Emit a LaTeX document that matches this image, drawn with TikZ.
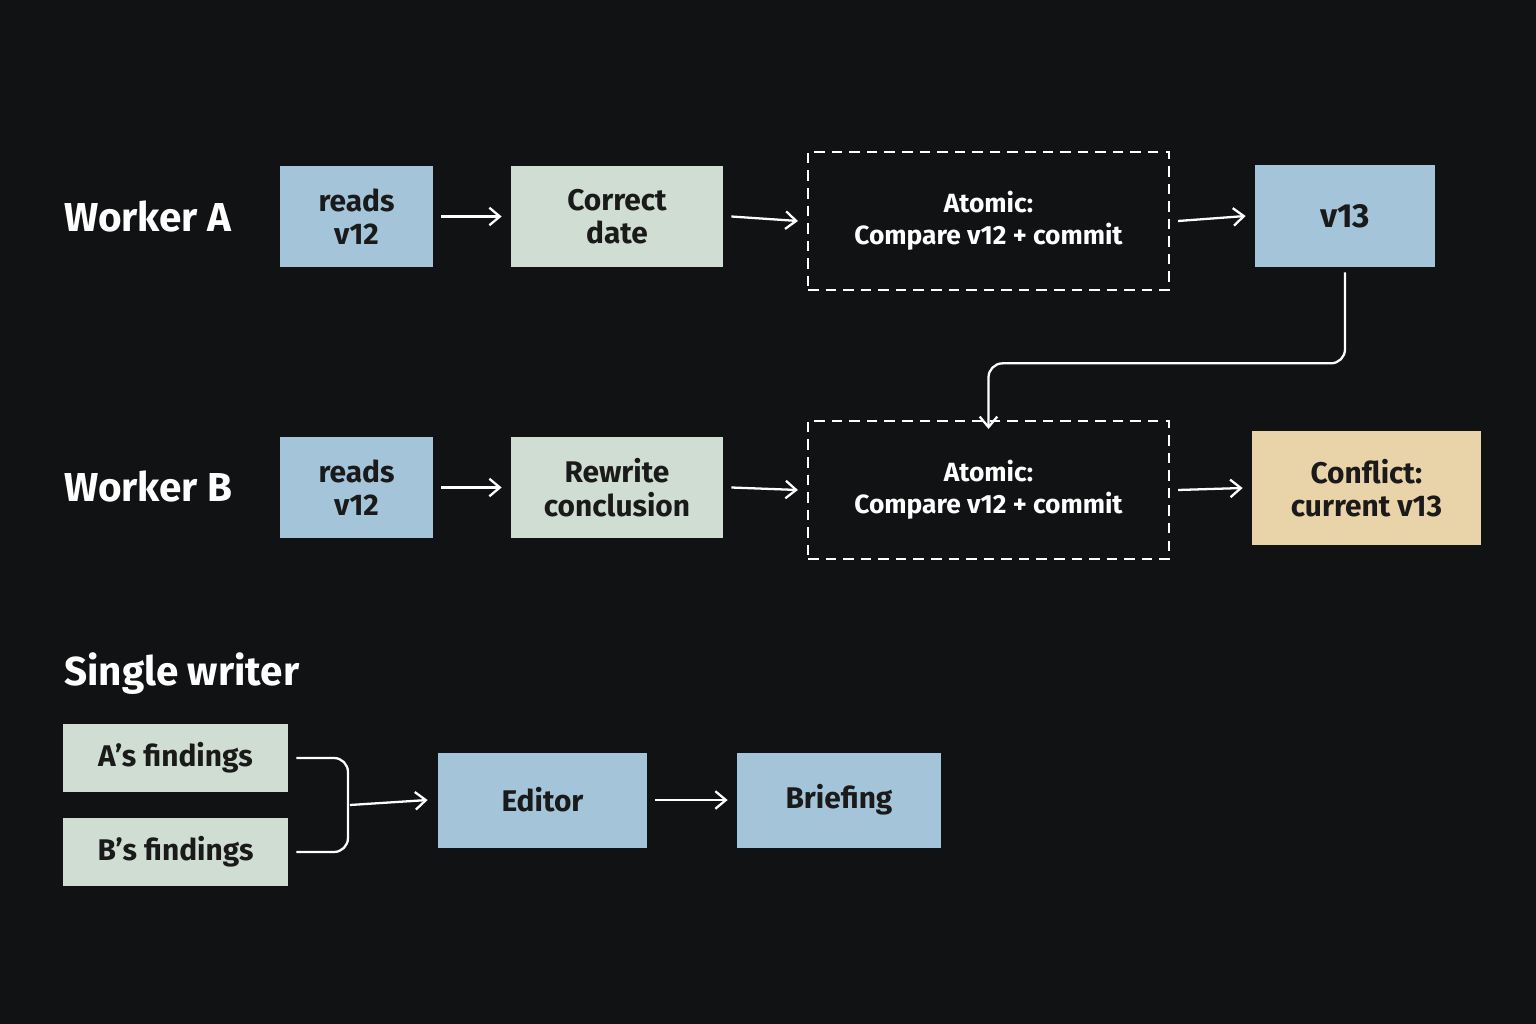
\documentclass[tikz,border=0pt]{standalone}
\usepackage{fontspec}
\setmainfont{Fira Sans}
\usetikzlibrary{arrows.meta}
\definecolor{bg}{HTML}{111214}
\definecolor{bl}{HTML}{A3C4D9}
\definecolor{gr}{HTML}{CFDDD2}
\definecolor{tn}{HTML}{E9D3A8}
\definecolor{tx}{HTML}{1A1A1A}
\begin{document}
\begin{tikzpicture}[x=0.02cm,y=-0.02cm,
  box/.style={draw=none,text=tx,font=\fontsize{17}{19}\selectfont\bfseries,align=center,inner sep=0pt},
  dbox/.style={draw=white,line width=1.2pt,dash pattern=on 6pt off 4pt,text=white,font=\fontsize{15}{18}\selectfont\bfseries,align=center,inner sep=0pt},
  lab/.style={text=white,font=\fontsize{23}{26}\selectfont\bfseries,anchor=west},
  arr/.style={draw=white,line width=1.3pt,-{Straight Barb[length=6pt,width=10pt]}}]
\fill[bg] (0,0) rectangle (1536,1024);
\useasboundingbox (0,0) rectangle (1536,1024);
\node[lab] (wa) at (58,217) {Worker A};
\node[lab] (wb) at (58,487) {Worker B};
\node[lab] (sw) at (58,674) {Single writer};
\node[box,fill=bl,minimum width=153*0.02cm,minimum height=101*0.02cm] (ra) at (356.5,216.5) {reads\\v12};
\node[box,fill=gr,minimum width=212*0.02cm,minimum height=101*0.02cm] (ca) at (617,216.5) {Correct\\date};
\node[dbox,minimum width=361*0.02cm,minimum height=138*0.02cm] (aa) at (988.5,221) {Atomic:\\Compare v12 + commit};
\node[box,fill=bl,minimum width=180*0.02cm,minimum height=102*0.02cm] (v) at (1345,216) {\fontsize{19}{22}\selectfont v13};
\node[box,fill=bl,minimum width=153*0.02cm,minimum height=101*0.02cm] (rb) at (356.5,487.5) {reads\\v12};
\node[box,fill=gr,minimum width=212*0.02cm,minimum height=101*0.02cm] (cb) at (617,487.5) {Rewrite\\conclusion};
\node[dbox,minimum width=361*0.02cm,minimum height=138*0.02cm] (ab) at (988.5,490) {Atomic:\\Compare v12 + commit};
\node[box,fill=tn,minimum width=229*0.02cm,minimum height=114*0.02cm] (cf) at (1366.5,488) {Conflict:\\current v13};
\node[box,fill=gr,minimum width=225*0.02cm,minimum height=68*0.02cm] (fa) at (175.5,758) {A’s findings};
\node[box,fill=gr,minimum width=225*0.02cm,minimum height=68*0.02cm] (fb) at (175.5,852) {B’s findings};
\node[box,fill=bl,minimum width=209*0.02cm,minimum height=95*0.02cm] (ed) at (542.5,800) {Editor};
\node[box,fill=bl,minimum width=204*0.02cm,minimum height=95*0.02cm] (br) at (839,800) {Briefing};
\foreach \a/\b in {ra/ca,ca/aa,aa/v,rb/cb,cb/ab,ab/cf,ed/br}
  \draw[arr] ([xshift=8*0.02cm]\a.east) -- ([xshift=-9*0.02cm]\b.west);
\draw[arr,rounded corners=8pt] ([yshift=-5*0.02cm]v.south) -- ++(0,91) -| ([yshift=-9*0.02cm]ab.north);
\coordinate (j) at (350,805);
\draw[white,line width=1.3pt,rounded corners=8pt] ([xshift=8*0.02cm]fa.east) -| (348,805) |- ([xshift=8*0.02cm]fb.east);
\draw[arr] (j) -- ([xshift=-10*0.02cm]ed.west);
\end{tikzpicture}
\end{document}
